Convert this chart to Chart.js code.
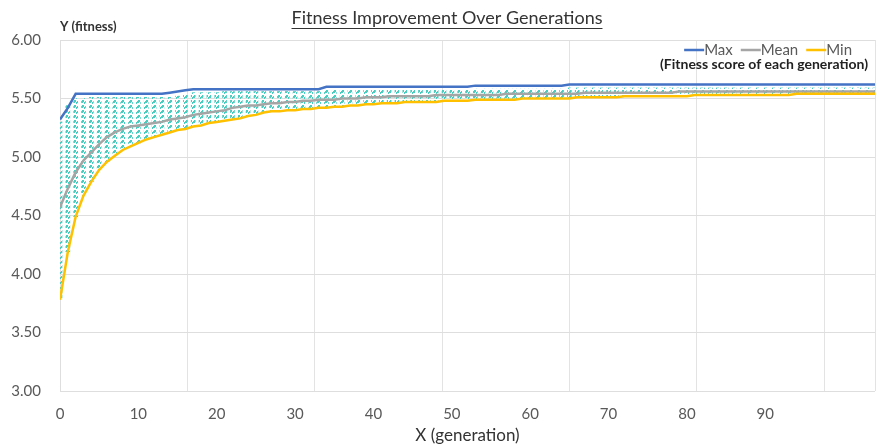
<!DOCTYPE html>
<html>
<head>
<meta charset="utf-8">
<script src="https://cdn.jsdelivr.net/npm/chart.js@4"></script>
<style>
  html, body { margin: 0; padding: 0; background: #fff; }
  #wrap { width: 883px; height: 448px; }
</style>
</head>
<body>
<div id="wrap"><canvas id="chart" width="883" height="448"></canvas></div>
<script>
// fitness per generation (0..104)
const maxFitness = [
  5.32, 5.42, 5.54, 5.54, 5.54, 5.54, 5.54, 5.54, 5.54, 5.54,
  5.54, 5.54, 5.54, 5.54, 5.55, 5.56, 5.57, 5.58, 5.58, 5.58,
  5.58, 5.58, 5.58, 5.58, 5.58, 5.58, 5.58, 5.58, 5.58, 5.58,
  5.58, 5.58, 5.58, 5.58, 5.60, 5.60, 5.60, 5.60, 5.60, 5.60,
  5.60, 5.60, 5.60, 5.60, 5.60, 5.60, 5.60, 5.60, 5.60, 5.60,
  5.60, 5.60, 5.60, 5.61, 5.61, 5.61, 5.61, 5.61, 5.61, 5.61,
  5.61, 5.61, 5.61, 5.61, 5.61, 5.62, 5.62, 5.62, 5.62, 5.62,
  5.62, 5.62, 5.62, 5.62, 5.62, 5.62, 5.62, 5.62, 5.62, 5.62,
  5.62, 5.62, 5.62, 5.62, 5.62, 5.62, 5.62, 5.62, 5.62, 5.62,
  5.62, 5.62, 5.62, 5.62, 5.62, 5.62, 5.62, 5.62, 5.62, 5.62,
  5.62, 5.62, 5.62, 5.62, 5.62
];
const meanFitness = [
  4.57, 4.73, 4.87, 4.97, 5.04, 5.11, 5.17, 5.21, 5.24, 5.26,
  5.27, 5.28, 5.29, 5.30, 5.32, 5.33, 5.34, 5.36, 5.37, 5.38,
  5.39, 5.40, 5.42, 5.43, 5.44, 5.44, 5.45, 5.46, 5.46, 5.47,
  5.47, 5.48, 5.48, 5.49, 5.49, 5.49, 5.50, 5.50, 5.50, 5.51,
  5.51, 5.51, 5.52, 5.52, 5.52, 5.52, 5.52, 5.52, 5.53, 5.53,
  5.53, 5.53, 5.53, 5.53, 5.53, 5.53, 5.53, 5.54, 5.54, 5.54,
  5.54, 5.54, 5.54, 5.54, 5.54, 5.54, 5.54, 5.55, 5.55, 5.55,
  5.55, 5.55, 5.55, 5.55, 5.55, 5.55, 5.55, 5.55, 5.55, 5.56,
  5.56, 5.56, 5.56, 5.56, 5.56, 5.56, 5.56, 5.56, 5.56, 5.56,
  5.56, 5.56, 5.56, 5.56, 5.56, 5.56, 5.56, 5.56, 5.56, 5.56,
  5.56, 5.56, 5.56, 5.56, 5.56
];
const minFitness = [
  3.78, 4.19, 4.49, 4.67, 4.79, 4.89, 4.96, 5.01, 5.06, 5.09,
  5.12, 5.15, 5.17, 5.19, 5.21, 5.23, 5.24, 5.26, 5.27, 5.29,
  5.30, 5.31, 5.32, 5.33, 5.35, 5.36, 5.38, 5.39, 5.39, 5.40,
  5.40, 5.41, 5.41, 5.42, 5.42, 5.43, 5.43, 5.44, 5.44, 5.45,
  5.45, 5.46, 5.46, 5.46, 5.47, 5.47, 5.47, 5.47, 5.47, 5.48,
  5.48, 5.48, 5.48, 5.49, 5.49, 5.49, 5.49, 5.49, 5.49, 5.50,
  5.50, 5.50, 5.50, 5.50, 5.50, 5.50, 5.51, 5.51, 5.51, 5.51,
  5.51, 5.51, 5.52, 5.52, 5.52, 5.52, 5.52, 5.52, 5.52, 5.52,
  5.52, 5.53, 5.53, 5.53, 5.53, 5.53, 5.53, 5.53, 5.53, 5.53,
  5.53, 5.53, 5.53, 5.53, 5.54, 5.54, 5.54, 5.54, 5.54, 5.54,
  5.54, 5.54, 5.54, 5.54, 5.54
];
// top of the cloud of individual scores in each generation (bottom = min)
const populationTop = [
  5.30, 5.44, 5.50, 5.50, 5.51, 5.51, 5.51, 5.51, 5.51, 5.51,
  5.51, 5.51, 5.51, 5.51, 5.51, 5.52, 5.53, 5.55, 5.55, 5.55,
  5.55, 5.56, 5.56, 5.56, 5.56, 5.56, 5.56, 5.56, 5.56, 5.56,
  5.56, 5.56, 5.56, 5.56, 5.57, 5.57, 5.57, 5.57, 5.57, 5.57,
  5.57, 5.57, 5.57, 5.57, 5.57, 5.57, 5.57, 5.57, 5.57, 5.57,
  5.57, 5.57, 5.57, 5.58, 5.58, 5.58, 5.58, 5.58, 5.58, 5.58,
  5.58, 5.58, 5.58, 5.58, 5.58, 5.59, 5.59, 5.59, 5.59, 5.59,
  5.59, 5.59, 5.59, 5.59, 5.59, 5.59, 5.59, 5.59, 5.59, 5.59,
  5.59, 5.59, 5.59, 5.59, 5.59, 5.59, 5.59, 5.59, 5.59, 5.59,
  5.59, 5.59, 5.59, 5.59, 5.59, 5.59, 5.59, 5.59, 5.59, 5.59,
  5.59, 5.59, 5.59, 5.59, 5.59
];
const yTicks = [3.0, 3.5, 4.0, 4.5, 5.0, 5.5, 6.0];
const xTickStep = 10;

const FONT = "Lato, 'Open Sans', sans-serif";
const canvas = document.getElementById("chart");
const ctx = canvas.getContext("2d");

// little slanted cyan dashes for the individual scores
const pc = document.createElement("canvas");
pc.width = 4;
pc.height = 5;
const pctx = pc.getContext("2d");
pctx.fillStyle = "rgb(72, 206, 192)";
pctx.fillRect(0, 2, 3, 1);
pctx.fillRect(1, 1, 3, 1);
pctx.fillRect(2, 0, 2, 1);
pctx.fillRect(0, 3, 1, 1);
const dashPattern = ctx.createPattern(pc, "repeat");

const toPoints = (arr) => arr.map((v, i) => ({ x: i, y: v }));

// title, y label, legend drawn on top
const decorations = {
  id: "decorations",
  afterDraw(chart) {
    const c = chart.ctx;
    c.save();
    c.textBaseline = "middle";

    c.font = "18px " + FONT;
    c.fillStyle = "#333";
    c.textAlign = "center";
    const title = "Fitness Improvement Over Generations";
    c.fillText(title, 447, 18);
    const tw = c.measureText(title).width;
    c.strokeStyle = "#333";
    c.lineWidth = 1;
    c.beginPath();
    c.moveTo(447 - tw / 2, 28.5);
    c.lineTo(447 + tw / 2, 28.5);
    c.stroke();

    c.font = "bold 13px " + FONT;
    c.textAlign = "left";
    c.fillStyle = "#333";
    c.fillText("Y (fitness)", 60, 27);

    // legend
    c.font = "15px " + FONT;
    const items = chart.data.datasets.filter((d) => d.type !== "bar");
    const lineLen = 20, gap = 8;
    let total = 0;
    items.forEach((d, i) => {
      total += lineLen + c.measureText(d.label).width + (i ? gap : 0);
    });
    let x = 852 - total;
    items.forEach((d) => {
      c.strokeStyle = d.borderColor;
      c.lineWidth = 2.5;
      c.beginPath();
      c.moveTo(x, 50);
      c.lineTo(x + lineLen, 50);
      c.stroke();
      x += lineLen;
      c.fillStyle = "#595959";
      c.fillText(d.label, x, 50);
      x += c.measureText(d.label).width + gap;
    });
    c.font = "bold 14px " + FONT;
    c.fillStyle = "#222";
    c.textAlign = "right";
    c.fillText("(Fitness score of each generation)", 868, 64);
    c.restore();
  }
};

new Chart(ctx, {
  type: "line",
  data: {
    datasets: [
      {
        type: "bar",
        label: "Population",
        data: minFitness.map((v, i) => ({ x: i, y: [v, populationTop[i]] })),
        backgroundColor: dashPattern,
        borderWidth: 0,
        barThickness: 4,
        grouped: false,
        order: 10
      },
      {
        label: "Max",
        data: toPoints(maxFitness),
        borderColor: "#4472C4",
        borderWidth: 2.5,
        pointRadius: 0,
        order: 3
      },
      {
        label: "Mean",
        data: toPoints(meanFitness),
        borderColor: "#A5A5A5",
        borderWidth: 2.5,
        pointRadius: 0,
        order: 2
      },
      {
        label: "Min",
        data: toPoints(minFitness),
        borderColor: "#FFC000",
        borderWidth: 2.5,
        pointRadius: 0,
        order: 1
      }
    ]
  },
  options: {
    responsive: false,
    animation: false,
    layout: { padding: { top: 40, right: 8, left: 0, bottom: 0 } },
    plugins: {
      legend: { display: false },
      tooltip: { enabled: false }
    },
    scales: {
      x: {
        type: "linear",
        offset: false,
        min: 0,
        max: maxFitness.length - 1,
        grid: { display: false, offset: false },
        border: { display: false },
        afterBuildTicks: (s) => {
          s.ticks = [];
          for (let v = 0; v <= 90; v += xTickStep) s.ticks.push({ value: v });
        },
        ticks: { color: "#595959", font: { family: FONT, size: 15 }, padding: 6, maxRotation: 0 },
        title: {
          display: true,
          text: "X (generation)",
          color: "#333",
          font: { family: FONT, size: 17 },
          padding: { top: 2, bottom: 2 }
        },
        afterFit: (s) => { s.height = 57; }
      },
      x2: {
        type: "linear",
        position: "bottom",
        offset: false,
        min: 0,
        max: maxFitness.length - 1,
        ticks: { display: false, stepSize: 16.25 },
        grid: { color: "#e3e3e3", drawTicks: false, offset: false },
        border: { display: false },
        afterFit: (s) => { s.height = 0; }
      },
      y: {
        min: 3,
        max: 6,
        afterBuildTicks: (s) => { s.ticks = yTicks.map((v) => ({ value: v })); },
        ticks: {
          color: "#595959",
          font: { family: FONT, size: 15 },
          padding: 19,
          callback: (v) => v.toFixed(2)
        },
        grid: { color: "#dedede", drawTicks: false },
        border: { display: true, color: "#dedede" },
        afterFit: (s) => { s.width = 60; }
      }
    }
  },
  plugins: [decorations]
});
</script>
</body>
</html>
